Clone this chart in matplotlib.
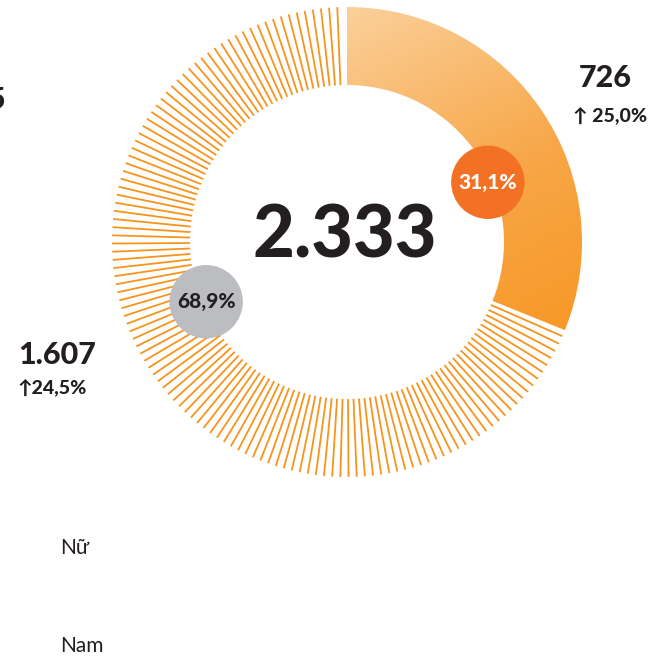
import numpy as np
import matplotlib.pyplot as plt
from matplotlib.patches import Wedge, Circle
from matplotlib.colors import LinearSegmentedColormap

plt.rcParams['font.family'] = ['Lato', 'DejaVu Sans']

# data
labels = ['Nữ', 'Nam']
counts = [726, 1607]
growth = ['↑ 25,0%', '↑24,5%']
pct_labels = ['31,1%', '68,9%']
total_label = '2.333'
cut_label = '5'

W, H = 668, 660
fig = plt.figure(figsize=(W / 100, H / 100), dpi=100)
ax = fig.add_axes([0, 0, 1, 1])
ax.set_xlim(0, W)
ax.set_ylim(0, H)
ax.axis('off')

dark = '#231f20'
cx, cy = 347, H - 242
r_out, r_in = 235, 157

share = counts[0] / sum(counts)
end = 90 - 360 * share

# solid wedge with gradient
wedge = Wedge((cx, cy), r_out, end, 90, width=r_out - r_in, facecolor='none', edgecolor='none')
ax.add_patch(wedge)
cmap = LinearSegmentedColormap.from_list('g', ['#fbd09a', '#f7a647', '#f7941d'])
gx, gy = np.meshgrid(np.linspace(cx, cx + r_out, 200), np.linspace(cy - r_out * 0.6, cy + r_out, 200))
t = ((gx - cx) * 0.45 - (gy - (cy + r_out)) * 0.9)
t = (t - t.min()) / (t.max() - t.min())
im = ax.imshow(t, extent=[cx, cx + r_out, cy - r_out * 0.6, cy + r_out], origin='lower',
               cmap=cmap, aspect='auto', zorder=1)
im.set_clip_path(wedge)

# thin radial lines for the rest
for th in np.arange(end - 1.6, -270 + 0.5, -2.0):
    a = np.radians(th)
    ax.plot([cx + r_in * np.cos(a), cx + r_out * np.cos(a)],
            [cy + r_in * np.sin(a), cy + r_out * np.sin(a)],
            color='#f7941d', lw=1.3, solid_capstyle='butt', zorder=1)

# percentage bubbles
mids = [90 - 360 * share / 2 - 11, end - 360 * (1 - share) / 2 - 11]
bub_colors = ['#f37124', '#bcbdc0']
txt_colors = ['white', dark]
for m, bc, tc, lab in zip(mids, bub_colors, txt_colors, pct_labels):
    a = np.radians(m)
    px, py = cx + 153 * np.cos(a), cy + 153 * np.sin(a)
    ax.add_patch(Circle((px, py), 36, color=bc, zorder=3))
    ax.text(px, py, lab, ha='center', va='center', fontsize=15, fontweight='black', color=tc, zorder=4)

ax.text(cx - 2, H - 237, total_label, ha='center', va='center', fontsize=52, fontweight='black', color=dark)

ax.text(605, H - 78, f'{counts[0]}', ha='center', va='center', fontsize=22, fontweight='black', color=dark)
ax.text(610, H - 116, growth[0], ha='center', va='center', fontsize=14, fontweight='black', color=dark)
ax.text(57, H - 355, '1.607', ha='center', va='center', fontsize=22, fontweight='black', color=dark)
ax.text(52, H - 388, growth[1], ha='center', va='center', fontsize=14, fontweight='black', color=dark)
ax.text(6, H - 100, cut_label, ha='right', va='center', fontsize=22, fontweight='black', color=dark)

ax.text(60, H - 548, labels[0], ha='left', va='center', fontsize=15, color=dark)
ax.text(60, H - 646, labels[1], ha='left', va='center', fontsize=15, color=dark)

fig.savefig('out.png', dpi=100)
